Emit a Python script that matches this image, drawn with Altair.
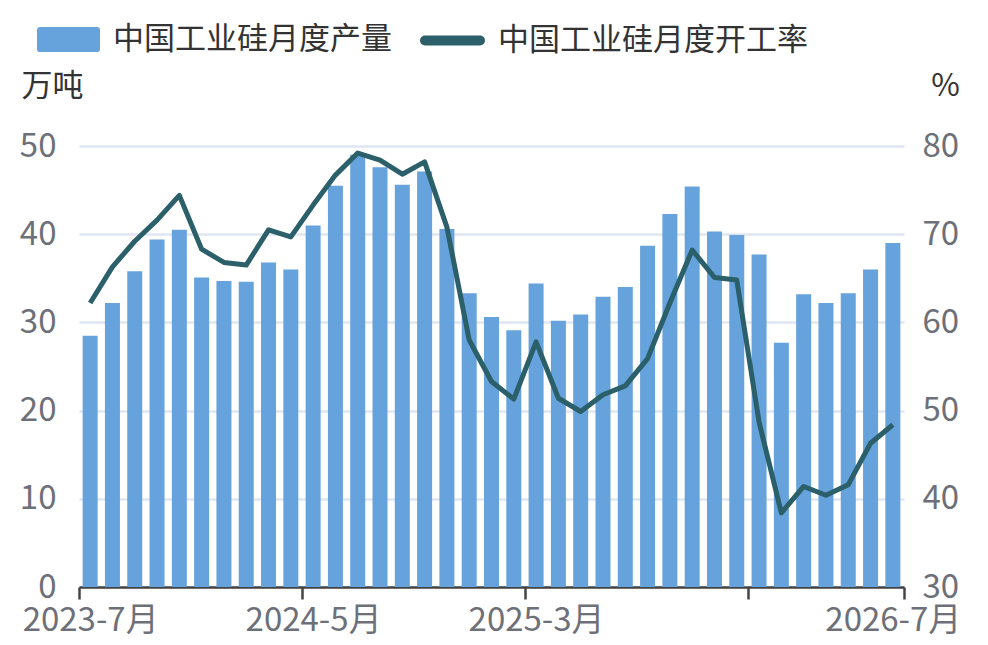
import altair as alt
import pandas as pd

months = [
    "2023-7", "2023-8", "2023-9", "2023-10", "2023-11", "2023-12",
    "2024-1", "2024-2", "2024-3", "2024-4", "2024-5", "2024-6",
    "2024-7", "2024-8", "2024-9", "2024-10", "2024-11", "2024-12",
    "2025-1", "2025-2", "2025-3", "2025-4", "2025-5", "2025-6",
    "2025-7", "2025-8", "2025-9", "2025-10", "2025-11", "2025-12",
    "2026-1", "2026-2", "2026-3", "2026-4", "2026-5", "2026-6", "2026-7",
]
production = [
    28.5, 32.2, 35.8, 39.4, 40.5, 35.1, 34.7, 34.6, 36.8, 36.0, 41.0, 45.5,
    49.0, 47.6, 45.6, 47.1, 40.6, 33.3, 30.6, 29.1, 34.4, 30.2, 30.9, 32.9,
    34.0, 38.7, 42.3, 45.4, 40.3, 39.9, 37.7, 27.7, 33.2, 32.2, 33.3, 36.0, 39.0,
]
rate = [
    62.2, 66.3, 69.2, 71.6, 74.4, 68.3, 66.8, 66.5, 70.5, 69.7, 73.3, 76.7,
    79.2, 78.4, 76.8, 78.2, 70.8, 58.0, 53.3, 51.3, 57.8, 51.4, 49.9, 51.8,
    52.8, 55.9, 62.2, 68.2, 65.1, 64.8, 48.7, 38.4, 41.4, 40.4, 41.6, 46.3, 48.4,
]
series_names = ["中国工业硅月度产量", "中国工业硅月度开工率"]
left_ticks = [0, 10, 20, 30, 40, 50]
right_ticks = [30, 40, 50, 60, 70, 80]
x_tick_months = ["2023-7", "2024-5", "2025-3", "2026-1"]
x_label_months = ["2023-7", "2024-5", "2025-3", "2026-7"]

BAR = "#66a3dc"
LINE = "#2b5f69"
LABEL = "#6E7079"
TEXT = "#333333"
FS = 33      # axis tick labels
FS_T = 31    # titles and legend

df = pd.DataFrame({"month": months, "production": production, "rate": rate})
df["pos"] = [i + 0.5 for i in range(len(months))]
df["s1"] = series_names[0]
df["s2"] = series_names[1]

tick_vals = [months.index(m) for m in x_tick_months] + [len(months)]
label_vals = [months.index(m) + 0.5 for m in x_label_months]
labels_js = "[" + ",".join("'" + m + "月'" for m in months) + "]"
label_expr = labels_js + "[floor(datum.value)]"

xscale = alt.Scale(domain=[0, len(months)], nice=False, zero=False, padding=0)

rect_path = ("M-0.9,-0.4 L0.9,-0.4 Q1,-0.4 1,-0.3 L1,0.3 Q1,0.4 0.9,0.4 "
             "L-0.9,0.4 Q-1,0.4 -1,0.3 L-1,-0.3 Q-1,-0.4 -0.9,-0.4 Z")
capsule_path = ("M-0.932,-0.068 L0.932,-0.068 A0.068,0.068 0 0 1 0.932,0.068 "
                "L-0.932,0.068 A0.068,0.068 0 0 1 -0.932,-0.068 Z")

bars = alt.Chart(df).mark_bar(size=15).encode(
    x=alt.X("pos:Q", scale=xscale, axis=alt.Axis(
        orient="bottom", values=tick_vals, labels=False, ticks=True, tickSize=12,
        tickWidth=2.5, tickColor="#444444", domain=True, domainColor="#444444",
        domainWidth=2.5, grid=False, title=None)),
    y=alt.Y("production:Q", scale=alt.Scale(domain=[0, 50], nice=False), axis=alt.Axis(
        values=left_ticks, grid=True, gridColor="#E0E6F1", gridWidth=2.5,
        domain=False, ticks=False, labelPadding=23, labelColor=LABEL, labelFontSize=FS,
        title="万吨", titleAngle=0, titleX=-27, titleY=-60, titleAlign="center",
        titleBaseline="middle", titleColor=TEXT, titleFontSize=FS_T, titleFontWeight="normal")),
    color=alt.Color("s1:N", scale=alt.Scale(domain=[series_names[0]], range=[BAR]),
                    legend=alt.Legend(title=None, orient="none", legendX=-42, legendY=-138,
                                      symbolType=rect_path, symbolSize=3969, symbolStrokeWidth=0,
                                      labelFontSize=FS_T, labelColor=TEXT, labelOffset=13,
                                      labelLimit=500, padding=0)),
)

line = alt.Chart(df).mark_line(strokeWidth=5, strokeJoin="round").encode(
    x=alt.X("pos:Q", scale=xscale, axis=alt.Axis(
        orient="bottom", values=label_vals, labelExpr=label_expr, ticks=False,
        domain=False, grid=False, labelPadding=17, labelFontSize=FS, labelColor=LABEL,
        labelFlush=False, labelOverlap=False, title=None)),
    y=alt.Y("rate:Q", scale=alt.Scale(domain=[30, 80], nice=False, zero=False), axis=alt.Axis(
        orient="right", values=right_ticks, grid=False, domain=False, ticks=False,
        labelPadding=18, labelColor=LABEL, labelFontSize=FS,
        title="%", titleAngle=0, titleX=41, titleY=-60, titleAlign="center",
        titleBaseline="middle", titleColor=TEXT, titleFontSize=FS_T, titleFontWeight="normal")),
    color=alt.Color("s2:N", scale=alt.Scale(domain=[series_names[1]], range=[LINE]),
                    legend=alt.Legend(title=None, orient="none", legendX=341, legendY=-138,
                                      symbolType=capsule_path, symbolSize=3481, symbolStrokeWidth=6,
                                      symbolFillColor=LINE,
                                      labelFontSize=FS_T, labelColor=TEXT, labelOffset=13,
                                      labelLimit=500, padding=0)),
)

chart = alt.layer(bars, line).resolve_scale(
    y="independent", color="independent"
).resolve_axis(x="independent").properties(
    width=825, height=441,
    padding={"left": 71, "top": 138, "right": 60, "bottom": 50},
    autosize=alt.AutoSizeParams(type="none"),
).configure(font="Noto Sans CJK SC").configure_view(stroke=None)

chart.save("out.html", embed_options={"renderer": "svg", "actions": False})
